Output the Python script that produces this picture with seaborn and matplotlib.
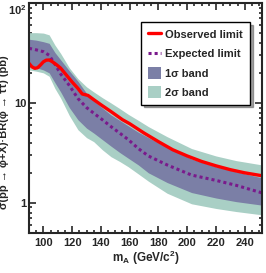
import matplotlib
matplotlib.use("Agg")
import matplotlib.pyplot as plt
import seaborn as sns
import numpy as np
from matplotlib.ticker import FixedLocator, LogLocator, NullFormatter, MultipleLocator

# observed limit
obs_mass = [90, 92, 94, 96, 98, 100, 102, 104, 106, 109, 112, 116, 120, 124, 127, 129, 131,
            135, 140, 147, 155, 160, 170, 180, 190, 200, 210, 220, 230, 240, 252]
obs_limit = [24.9, 23.0, 22.2, 22.5, 24.0, 25.8, 26.8, 26.9, 26.0, 24.2, 22.3, 19.0, 16.2, 14.0, 12.3, 12.1, 11.9,
             10.8, 9.6, 8.2, 6.8, 6.2, 5.0, 4.1, 3.4, 2.95, 2.6, 2.35, 2.15, 2.0, 1.87]

# expected limit and bands
exp_mass = [90, 95, 100, 104, 108, 112, 118, 124, 130, 135, 141, 147, 153, 159, 166, 173, 186, 203, 220, 234, 252]
exp_limit = [35.2, 34.0, 32.6, 30.0, 24.5, 19.5, 15.0, 11.1, 9.0, 7.9, 6.8, 5.8, 5.0, 4.3, 3.5, 2.95, 2.4, 1.9, 1.68, 1.5, 1.26]
sig1_hi = [43.4, 42.5, 41.0, 39.5, 32.0, 27.0, 21.0, 16.5, 12.5, 10.5, 8.9, 7.6, 6.7, 5.9, 5.1, 4.5, 3.6, 2.75, 2.3, 2.05, 1.78]
sig1_lo = [23.4, 22.5, 21.4, 20.0, 16.0, 12.9, 9.0, 6.8, 5.6, 5.0, 4.3, 3.7, 3.2, 2.8, 2.4, 2.0, 1.6, 1.27, 1.12, 1.03, 0.95]
sig2_hi = [50.5, 50.5, 50.0, 48.0, 38.0, 31.3, 22.5, 17.5, 14.5, 12.9, 11.3, 10.0, 8.8, 7.7, 6.7, 5.8, 4.6, 3.5, 2.95, 2.65, 2.4]
sig2_lo = [21.4, 20.8, 20.0, 18.5, 14.0, 11.2, 7.5, 5.4, 4.5, 4.1, 3.4, 2.9, 2.6, 2.3, 1.95, 1.65, 1.25, 0.98, 0.88, 0.82, 0.76]

sns.set_style("ticks")
plt.rcParams['font.family'] = ['Liberation Sans', 'DejaVu Sans']
plt.rcParams['mathtext.fontset'] = 'custom'
plt.rcParams['mathtext.rm'] = 'Liberation Sans:bold'
plt.rcParams['mathtext.it'] = 'Liberation Sans:bold'
plt.rcParams['mathtext.bf'] = 'Liberation Sans:bold'

fig = plt.figure(figsize=(2.66, 2.73), dpi=100)
ax = fig.add_axes([0.109, 0.1465, 0.876, 0.8425])

green = '#a9cfc5'
dark = '#7b7fa6'
ax.fill_between(exp_mass, sig2_lo, sig2_hi, color=green, lw=0, label='2σ band')
ax.fill_between(exp_mass, sig1_lo, sig1_hi, color=dark, lw=0, label='1σ band')
sns.lineplot(x=exp_mass, y=exp_limit, ax=ax, color='#7a1a8c', lw=2.2, linestyle=(0, (1, 1)),
             label='Expected limit')
sns.lineplot(x=obs_mass, y=obs_limit, ax=ax, color='#ff0000', lw=2.4, label='Observed limit')

ax.set_yscale('log')
ax.set_xlim(90, 252)
ax.set_ylim(0.5, 100)
ax.xaxis.set_major_locator(FixedLocator([100, 120, 140, 160, 180, 200, 220, 240]))
ax.xaxis.set_minor_locator(MultipleLocator(5))
ax.yaxis.set_major_locator(FixedLocator([1, 10, 100]))
ax.yaxis.set_minor_locator(LogLocator(base=10, subs=np.arange(2, 10)))
ax.yaxis.set_minor_formatter(NullFormatter())
ax.set_yticklabels(['1', '10', '$10^2$'])
ax.tick_params(which='both', direction='in', top=True, right=True, width=1.2, labelsize=8)
ax.tick_params(which='major', length=5)
ax.tick_params(which='minor', length=2.5)
ax.tick_params(axis='y', pad=2)
for lab in ax.get_xticklabels() + ax.get_yticklabels():
    lab.set_fontweight('bold')
ax.get_yticklabels()[-1].set_verticalalignment('top')
for sp in ax.spines.values():
    sp.set_linewidth(1.5)

ax.set_xlabel('m$_A$ (GeV/c$^2$)', fontsize=8.5, fontweight='bold', labelpad=1)
ax.set_ylabel('σ(pp → φ+X)·BR(φ → ττ) (pb)', fontsize=8, fontweight='bold')
ax.yaxis.set_label_coords(-0.085, 0.44)

handles, labels = ax.get_legend_handles_labels()
order = [labels.index(l) for l in ['Observed limit', 'Expected limit', '1σ band', '2σ band']]
leg = ax.legend([handles[i] for i in order], [labels[i] for i in order],
                loc='upper right', bbox_to_anchor=(0.948, 0.917), borderaxespad=0,
                fontsize=8, frameon=True, fancybox=False, shadow=True, edgecolor='black',
                handlelength=1.2, handleheight=1.2, handletextpad=0.4, borderpad=0.6,
                labelspacing=0.7)
leg.get_frame().set_linewidth(1.0)
for t in leg.get_texts():
    t.set_fontweight('bold')

fig.savefig('out.png', dpi=100)
